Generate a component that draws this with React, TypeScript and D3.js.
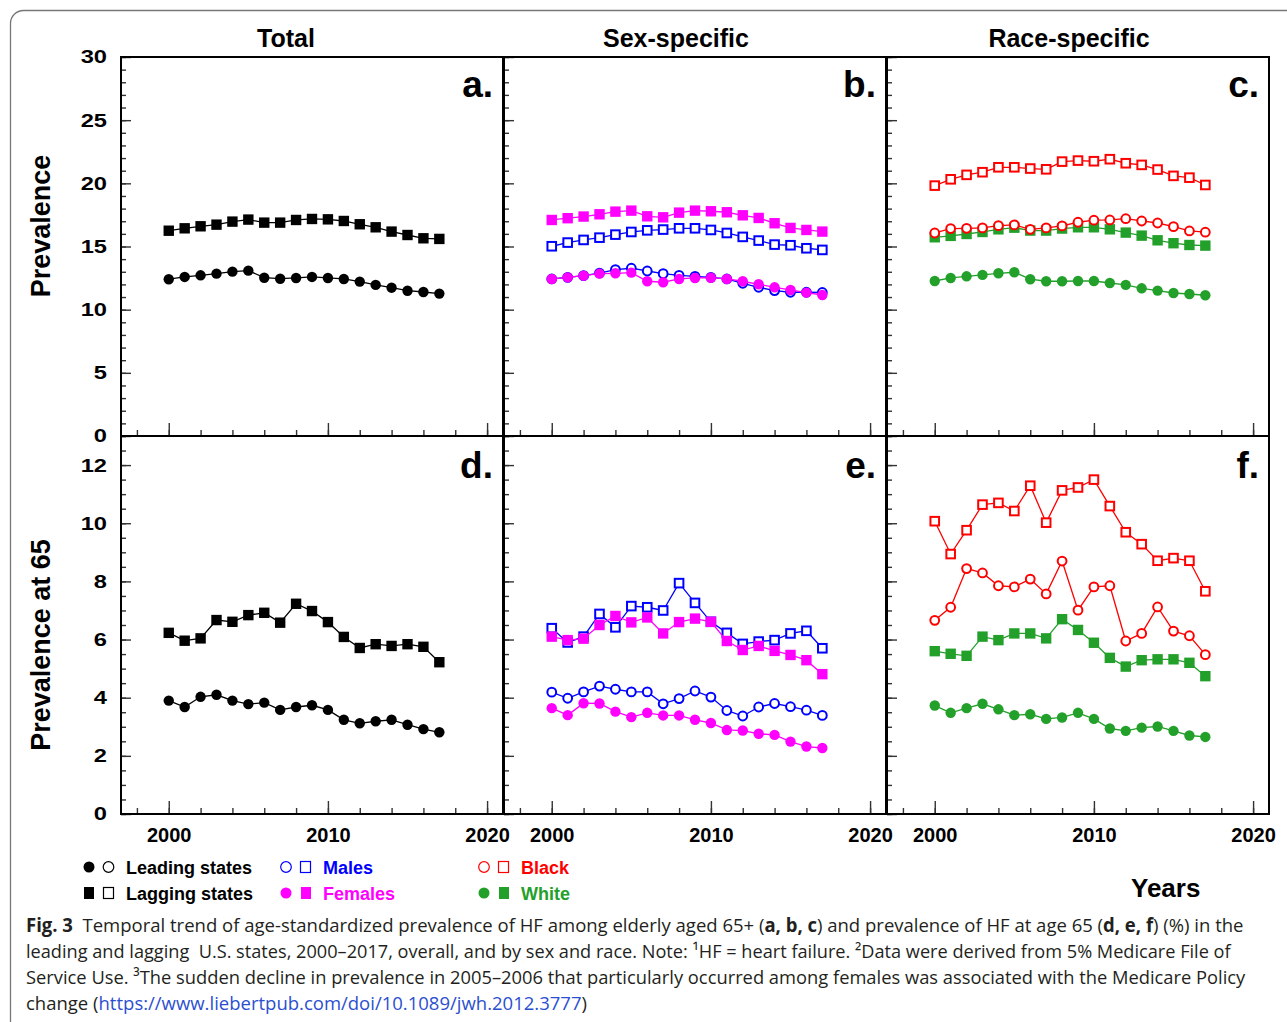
import React, { useEffect, useRef } from 'react';
import * as d3 from 'd3';

const years = [2000, 2001, 2002, 2003, 2004, 2005, 2006, 2007, 2008, 2009, 2010, 2011, 2012, 2013, 2014, 2015, 2016, 2017];

// age-standardized prevalence of HF (%), aged 65+
const totalLeading = [12.41, 12.59, 12.72, 12.85, 13.01, 13.09, 12.53, 12.45, 12.51, 12.59, 12.51, 12.43, 12.22, 11.96, 11.74, 11.5, 11.4, 11.27];
const totalLagging = [16.25, 16.44, 16.6, 16.73, 16.97, 17.13, 16.89, 16.89, 17.1, 17.18, 17.15, 17.02, 16.76, 16.52, 16.18, 15.91, 15.65, 15.6];
const maleLeading = [12.43, 12.56, 12.69, 12.9, 13.17, 13.28, 13.06, 12.85, 12.72, 12.64, 12.56, 12.43, 12.09, 11.77, 11.51, 11.38, 11.38, 11.36];
const maleLagging = [15.02, 15.31, 15.52, 15.7, 15.94, 16.15, 16.28, 16.34, 16.44, 16.44, 16.31, 16.07, 15.76, 15.47, 15.15, 15.1, 14.86, 14.73];
const femaleLeading = [12.43, 12.56, 12.69, 12.85, 12.88, 12.93, 12.25, 12.17, 12.43, 12.51, 12.53, 12.43, 12.25, 12.01, 11.77, 11.56, 11.35, 11.16];
const femaleLagging = [17.1, 17.24, 17.37, 17.55, 17.76, 17.84, 17.39, 17.31, 17.68, 17.84, 17.79, 17.71, 17.47, 17.26, 16.84, 16.47, 16.31, 16.18];
const blackLeading = [16.07, 16.42, 16.44, 16.47, 16.65, 16.71, 16.36, 16.47, 16.63, 16.92, 17.08, 17.1, 17.2, 17.02, 16.86, 16.57, 16.23, 16.13];
const blackLagging = [19.82, 20.32, 20.67, 20.88, 21.27, 21.27, 21.17, 21.11, 21.72, 21.8, 21.75, 21.91, 21.59, 21.46, 21.09, 20.59, 20.45, 19.87];
const whiteLeading = [12.27, 12.51, 12.64, 12.75, 12.88, 12.96, 12.41, 12.25, 12.25, 12.27, 12.27, 12.11, 11.96, 11.69, 11.51, 11.32, 11.24, 11.14];
const whiteLagging = [15.73, 15.84, 15.99, 16.15, 16.36, 16.49, 16.26, 16.26, 16.42, 16.52, 16.52, 16.36, 16.1, 15.86, 15.49, 15.26, 15.12, 15.07];

// prevalence of HF at age 65 (%)
const totalLeading65 = [3.9, 3.68, 4.03, 4.1, 3.9, 3.78, 3.83, 3.58, 3.68, 3.74, 3.58, 3.24, 3.12, 3.19, 3.24, 3.07, 2.92, 2.81];
const totalLagging65 = [6.23, 5.96, 6.04, 6.67, 6.61, 6.84, 6.92, 6.58, 7.23, 6.98, 6.6, 6.09, 5.71, 5.84, 5.78, 5.84, 5.75, 5.22];
const maleLeading65 = [4.19, 3.98, 4.2, 4.4, 4.29, 4.2, 4.2, 3.79, 3.97, 4.23, 4.02, 3.56, 3.37, 3.68, 3.8, 3.69, 3.57, 3.39];
const maleLagging65 = [6.39, 5.9, 6.1, 6.88, 6.42, 7.15, 7.11, 7.0, 7.94, 7.26, 6.61, 6.23, 5.85, 5.93, 5.98, 6.21, 6.3, 5.7];
const femaleLeading65 = [3.64, 3.4, 3.81, 3.8, 3.52, 3.33, 3.48, 3.39, 3.39, 3.24, 3.13, 2.89, 2.87, 2.76, 2.72, 2.49, 2.32, 2.27];
const femaleLagging65 = [6.1, 5.98, 6.03, 6.5, 6.81, 6.59, 6.76, 6.21, 6.6, 6.72, 6.61, 5.95, 5.64, 5.78, 5.61, 5.47, 5.29, 4.81];
const blackLeading65 = [6.66, 7.11, 8.44, 8.29, 7.85, 7.81, 8.08, 7.57, 8.7, 7.01, 7.81, 7.85, 5.95, 6.21, 7.12, 6.29, 6.13, 5.48];
const blackLagging65 = [10.07, 8.94, 9.76, 10.64, 10.7, 10.42, 11.29, 10.02, 11.13, 11.23, 11.5, 10.59, 9.69, 9.28, 8.71, 8.8, 8.71, 7.66];
const whiteLeading65 = [3.73, 3.48, 3.64, 3.79, 3.6, 3.4, 3.43, 3.27, 3.32, 3.48, 3.27, 2.94, 2.86, 2.97, 3.01, 2.86, 2.7, 2.65];
const whiteLagging65 = [5.6, 5.51, 5.44, 6.1, 5.98, 6.21, 6.21, 6.04, 6.7, 6.33, 5.89, 5.37, 5.07, 5.29, 5.32, 5.32, 5.2, 4.74];

const columnTitles = ['Total', 'Sex-specific', 'Race-specific'];
const panelLetters = ['a.', 'b.', 'c.', 'd.', 'e.', 'f.'];
const rowTitles = ['Prevalence', 'Prevalence at 65'];
const xLabelTicks = [2000, 2010, 2020];
const yLabelTicks = [[0, 5, 10, 15, 20, 25, 30], [0, 2, 4, 6, 8, 10, 12]];

const BLUE = '#0000ff';
const MAGENTA = '#ff00ff';
const RED = '#ff0000';
const GREEN = '#22a02a';
const FONT = "'Liberation Sans', Arial, Helvetica, sans-serif";
const CAPFONT = "'Open Sans', 'Noto Sans', sans-serif";

const s = (values, color, shape, open) => ({ values, color, shape, open });

// drawn in order, later on top
const panels = [
  [s(totalLagging, '#000', 'sq', false), s(totalLeading, '#000', 'ci', false)],
  [s(maleLagging, BLUE, 'sq', true), s(maleLeading, BLUE, 'ci', true), s(femaleLagging, MAGENTA, 'sq', false), s(femaleLeading, MAGENTA, 'ci', false)],
  [s(whiteLagging, GREEN, 'sq', false), s(whiteLeading, GREEN, 'ci', false), s(blackLagging, RED, 'sq', true), s(blackLeading, RED, 'ci', true)],
  [s(totalLagging65, '#000', 'sq', false), s(totalLeading65, '#000', 'ci', false)],
  [s(maleLagging65, BLUE, 'sq', true), s(maleLeading65, BLUE, 'ci', true), s(femaleLagging65, MAGENTA, 'sq', false), s(femaleLeading65, MAGENTA, 'ci', false)],
  [s(whiteLagging65, GREEN, 'sq', false), s(whiteLeading65, GREEN, 'ci', false), s(blackLagging65, RED, 'sq', true), s(blackLeading65, RED, 'ci', true)],
];

const App = () => {
  const ref = useRef(null);
  const width = 1287;
  const height = 1022;

  useEffect(() => {
    const svg = d3.select(ref.current);
    svg.selectAll('*').remove();

    // outer frame with rounded corner
    svg.append('rect')
      .attr('x', 10.5).attr('y', 10.5).attr('width', 1300).attr('height', 1040)
      .attr('rx', 13).attr('fill', 'none').attr('stroke', '#777').attr('stroke-width', 1.3);

    const colX = [121, 504, 887];
    const colW = 382;
    const rows = [
      { top: 57, bottom: 436, max: 30, minor: 1 },
      { top: 436, bottom: 814, max: 13, minor: 0.5 },
    ];

    panels.forEach((series, i) => {
      const c = i % 3;
      const r = Math.floor(i / 3);
      const row = rows[r];
      const x0 = colX[c];
      const x = d3.scaleLinear().domain([1997, 2021]).range([x0, x0 + colW]);
      const y = d3.scaleLinear().domain([0, row.max]).range([row.bottom, row.top]);
      const g = svg.append('g');

      // x ticks
      const xMinor = g.append('g').attr('transform', `translate(0,${row.bottom})`)
        .call(d3.axisBottom(x).tickValues(d3.range(1998, 2021, 2)).tickSize(-6).tickFormat(() => ''));
      const xMajor = g.append('g').attr('transform', `translate(0,${row.bottom})`)
        .call(d3.axisBottom(x).tickValues(xLabelTicks).tickSize(-13).tickPadding(14).tickFormat(d3.format('d')));
      [xMinor, xMajor].forEach(a => {
        a.select('.domain').remove();
        a.selectAll('line').attr('stroke', '#333').attr('stroke-width', 1.4);
      });
      if (r === 1) {
        xMajor.selectAll('text').attr('font-size', 20).attr('font-weight', 'bold')
          .attr('font-family', FONT).attr('fill', '#000');
      } else {
        xMajor.selectAll('text').remove();
      }

      // y ticks
      const yMinor = g.append('g').attr('transform', `translate(${x0},0)`)
        .call(d3.axisLeft(y).tickValues(d3.range(0, row.max + 0.001, row.minor)).tickSize(-5).tickFormat(() => ''));
      const yMajor = g.append('g').attr('transform', `translate(${x0},0)`)
        .call(d3.axisLeft(y).tickValues(yLabelTicks[r]).tickSize(-10).tickPadding(14).tickFormat(d3.format('d')));
      [yMinor, yMajor].forEach(a => {
        a.select('.domain').remove();
        a.selectAll('line').attr('stroke', '#333').attr('stroke-width', 1.4);
      });
      if (c === 0) {
        yMajor.selectAll('text')
          .attr('x', 0)
          .attr('transform', 'translate(-14,0) scale(1.28,1)')
          .attr('font-size', 18.5).attr('font-weight', 'bold')
          .attr('font-family', FONT).attr('fill', '#000');
      } else {
        yMajor.selectAll('text').remove();
      }

      // frame
      g.append('rect')
        .attr('x', x0).attr('y', row.top).attr('width', colW).attr('height', row.bottom - row.top)
        .attr('fill', 'none').attr('stroke', '#000').attr('stroke-width', 2);

      // series
      series.forEach(sr => {
        const pts = years.map((yr, k) => [yr, sr.values[k]]);
        g.append('path')
          .datum(pts)
          .attr('d', d3.line().x(d => x(d[0])).y(d => y(d[1])))
          .attr('fill', 'none').attr('stroke', sr.color).attr('stroke-width', 1.3);
        const mk = g.append('g');
        if (sr.shape === 'ci') {
          mk.selectAll('circle').data(pts).enter().append('circle')
            .attr('cx', d => x(d[0])).attr('cy', d => y(d[1]))
            .attr('r', sr.open ? 4.4 : 5.2)
            .attr('fill', sr.open ? '#fff' : sr.color)
            .attr('stroke', sr.open ? sr.color : 'none')
            .attr('stroke-width', 2);
        } else {
          const side = sr.open ? 8.6 : 10.4;
          mk.selectAll('rect').data(pts).enter().append('rect')
            .attr('x', d => x(d[0]) - side / 2).attr('y', d => y(d[1]) - side / 2)
            .attr('width', side).attr('height', side)
            .attr('fill', sr.open ? '#fff' : sr.color)
            .attr('stroke', sr.open ? sr.color : 'none')
            .attr('stroke-width', 2);
        }
      });

      // panel letter
      g.append('text')
        .attr('x', x0 + colW - 10).attr('y', r === 0 ? 97 : 478)
        .attr('text-anchor', 'end')
        .attr('font-family', FONT).attr('font-weight', 'bold').attr('font-size', 37)
        .text(panelLetters[i]);
    });

    // column titles
    const titleX = [286, 676, 1069];
    columnTitles.forEach((t, i) => {
      svg.append('text')
        .attr('x', titleX[i]).attr('y', 47).attr('text-anchor', 'middle')
        .attr('font-family', FONT).attr('font-weight', 'bold').attr('font-size', 25)
        .text(t);
    });

    // row titles
    const rowMid = [226, 645];
    rowTitles.forEach((t, i) => {
      svg.append('text')
        .attr('transform', `translate(50,${rowMid[i]}) rotate(-90)`)
        .attr('text-anchor', 'middle')
        .attr('font-family', FONT).attr('font-weight', 'bold').attr('font-size', 27)
        .text(t);
    });

    svg.append('text')
      .attr('x', 1131).attr('y', 897)
      .attr('font-family', FONT).attr('font-weight', 'bold').attr('font-size', 26)
      .text('Years');

    // legend
    const legend = [
      { x: 89, y: 867, color: '#000', shape: 'ci', label: 'Leading states', filled: true },
      { x: 89, y: 893, color: '#000', shape: 'sq', label: 'Lagging states', filled: true },
      { x: 286, y: 867, color: BLUE, shape: 'ci', label: 'Males', filled: false },
      { x: 286, y: 893, color: MAGENTA, shape: 'ci', label: 'Females', filled: true },
      { x: 484, y: 867, color: RED, shape: 'ci', label: 'Black', filled: false },
      { x: 484, y: 893, color: GREEN, shape: 'ci', label: 'White', filled: true },
    ];
    legend.forEach(l => {
      const lg = svg.append('g');
      if (l.shape === 'sq') {
        lg.append('rect').attr('x', l.x - 5).attr('y', l.y - 6).attr('width', 10).attr('height', 12)
          .attr('fill', l.color);
        lg.append('rect').attr('x', l.x + 14.5).attr('y', l.y - 5.5).attr('width', 10).attr('height', 11)
          .attr('fill', 'none').attr('stroke', l.color).attr('stroke-width', 1.2);
      } else if (l.color === '#000') {
        lg.append('circle').attr('cx', l.x).attr('cy', l.y).attr('r', 5.5).attr('fill', l.color);
        lg.append('circle').attr('cx', l.x + 19.5).attr('cy', l.y).attr('r', 5.3)
          .attr('fill', 'none').attr('stroke', l.color).attr('stroke-width', 1.2);
      } else if (l.filled) {
        lg.append('circle').attr('cx', l.x).attr('cy', l.y).attr('r', 5.5).attr('fill', l.color);
        lg.append('rect').attr('x', l.x + 15).attr('y', l.y - 6).attr('width', 10).attr('height', 12)
          .attr('fill', l.color);
      } else {
        lg.append('circle').attr('cx', l.x).attr('cy', l.y).attr('r', 5.3)
          .attr('fill', 'none').attr('stroke', l.color).attr('stroke-width', 1.2);
        lg.append('rect').attr('x', l.x + 14.5).attr('y', l.y - 5.5).attr('width', 10).attr('height', 11)
          .attr('fill', 'none').attr('stroke', l.color).attr('stroke-width', 1.2);
      }
      lg.append('text').attr('x', l.x + 37).attr('y', l.y + 6.5)
        .attr('font-family', FONT).attr('font-weight', 'bold').attr('font-size', 18)
        .attr('fill', l.color).text(l.label);
    });

    // caption, each line squeezed horizontally to the width it has in the figure
    const capLines = [
      { y: 932, len: 1218, parts: [['Fig. 3', true], ['  Temporal trend of age-standardized prevalence of HF among elderly aged 65+ (', false], ['a, b, c', true], [') and prevalence of HF at age 65 (', false], ['d, e, f', true], [') (%) in the', false]] },
      { y: 958, len: 1205, parts: [['leading and lagging  U.S. states, 2000–2017, overall, and by sex and race. Note: ¹HF = heart failure. ²Data were derived from 5% Medicare File of', false]] },
      { y: 984, len: 1220, parts: [['Service Use. ³The sudden decline in prevalence in 2005–2006 that particularly occurred among females was associated with the Medicare Policy', false]] },
      { y: 1010, len: 561, parts: [['change (', false], ['https://www.liebertpub.com/doi/10.1089/jwh.2012.3777', 'link'], [')', false]] },
    ];
    capLines.forEach(cl => {
      const t = svg.append('text')
        .attr('x', 0).attr('y', 0)
        .attr('font-family', CAPFONT).attr('font-size', 19).attr('fill', '#231f20')
        .style('white-space', 'pre');
      cl.parts.forEach(([txt, kind]) => {
        t.append('tspan')
          .attr('font-weight', kind === true ? 'bold' : 'normal')
          .attr('fill', kind === 'link' ? '#2b4fd0' : '#231f20')
          .text(txt);
      });
      const natural = t.node().getComputedTextLength() || cl.len;
      t.attr('transform', `translate(26,${cl.y}) scale(${cl.len / natural},1)`);
    });
  }, []);

  return (
    <svg ref={ref} width={width} height={height}
      style={{ position: 'absolute', left: 0, top: 0, background: '#fff' }} />
  );
};

export default App;
